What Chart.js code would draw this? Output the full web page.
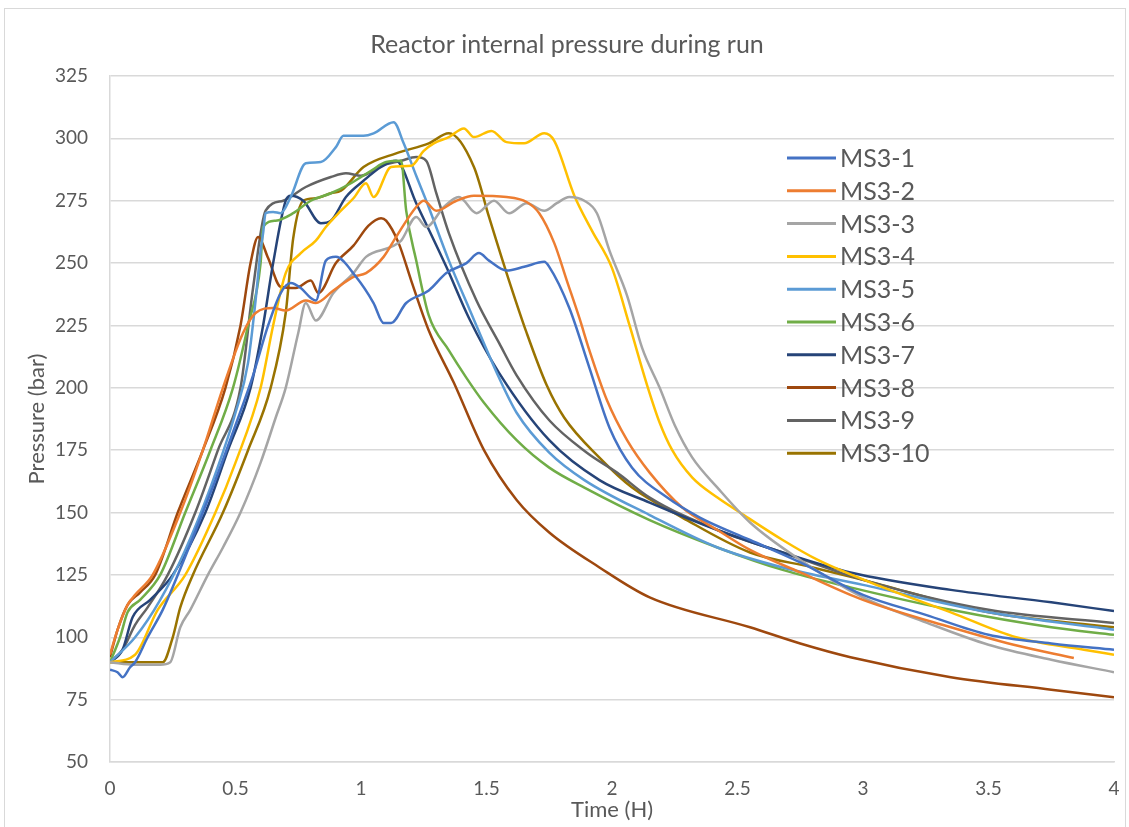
<!DOCTYPE html>
<html>
<head>
<meta charset="utf-8">
<title>Reactor internal pressure during run</title>
<script src="https://cdn.jsdelivr.net/npm/chart.js@4.4.1/dist/chart.umd.min.js"></script>
<style>
  html, body { margin: 0; padding: 0; background: #fff; }
  #wrap { width: 1129px; height: 827px; }
</style>
</head>
<body>
<div id="wrap"><canvas id="chart" width="1129" height="827"></canvas></div>
<script>
// series names and colours (Excel default palette)
const seriesNames = ['MS3-1', 'MS3-2', 'MS3-3', 'MS3-4', 'MS3-5', 'MS3-6', 'MS3-7', 'MS3-8', 'MS3-9', 'MS3-10'];
const seriesColors = ['#4472C4', '#ED7D31', '#A5A5A5', '#FFC000', '#5B9BD5', '#70AD47', '#264478', '#9E480E', '#636363', '#997300'];

// axis ticks
const timeTicks = [0, 0.5, 1, 1.5, 2, 2.5, 3, 3.5, 4];
const pressureTicks = [50, 75, 100, 125, 150, 175, 200, 225, 250, 275, 300, 325];

// time (H) / pressure (bar)
const ms31Time = [0, 0.03, 0.05, 0.08, 0.1, 0.15, 0.21, 0.27, 0.35, 0.42, 0.5, 0.57, 0.63, 0.68, 0.72, 0.76, 0.8, 0.82, 0.86, 0.9, 0.98, 1.05, 1.09, 1.12, 1.18, 1.27, 1.34, 1.42, 1.47, 1.51, 1.58, 1.65, 1.73, 1.75, 1.83, 1.91, 1.99, 2.08, 2.22, 2.35, 2.55, 2.75, 3.0, 3.25, 3.5, 3.75, 4.0];
const ms31Pressure = [87, 86, 84, 88, 90, 100, 111, 125, 145, 163, 185, 205, 225, 238, 242, 240, 236, 235, 251, 252.5, 244.5, 234, 226, 226, 234, 239, 246, 250, 254, 251, 247, 248.5, 250.5, 248.5, 232, 208, 184, 168, 156, 148, 139, 130, 117, 109, 101, 97.5, 95];

const ms32Time = [0, 0.03, 0.07, 0.1, 0.17, 0.28, 0.37, 0.45, 0.53, 0.58, 0.65, 0.7, 0.78, 0.82, 0.89, 0.97, 1.02, 1.09, 1.14, 1.22, 1.25, 1.3, 1.38, 1.45, 1.58, 1.66, 1.71, 1.77, 1.82, 1.87, 1.91, 1.98, 2.06, 2.15, 2.28, 2.42, 2.55, 2.75, 3.0, 3.35, 3.6, 3.84];
const ms32Pressure = [93, 103, 113, 117, 125, 150, 175, 200, 222, 230, 232, 231, 235, 234, 239, 244.5, 246, 252.5, 260.5, 272.5, 275, 271, 275, 277, 276.5, 274.5, 270, 258, 243, 228, 215, 195, 179, 166, 152, 143, 135, 126, 115, 104, 97, 91.7];

const ms33Time = [0, 0.1, 0.2, 0.24, 0.28, 0.32, 0.39, 0.45, 0.52, 0.6, 0.66, 0.7, 0.75, 0.78, 0.82, 0.89, 0.97, 1.02, 1.12, 1.16, 1.22, 1.26, 1.33, 1.39, 1.46, 1.53, 1.59, 1.66, 1.73, 1.78, 1.83, 1.89, 1.94, 1.99, 2.06, 2.12, 2.19, 2.25, 2.32, 2.42, 2.55, 2.75, 3.0, 3.25, 3.5, 3.75, 4.0];
const ms33Pressure = [90, 89, 89, 90, 104, 111, 125, 136, 150, 170, 188, 200, 222, 234, 227, 238, 246, 252.5, 256.5, 259, 268.5, 264.5, 272.5, 276.5, 270, 275, 270, 274, 271, 274, 276.5, 275, 270, 255, 237, 216, 200, 185, 172, 160, 146, 131, 116, 106, 97, 91, 86];

const ms34Time = [0, 0.1, 0.19, 0.3, 0.42, 0.5, 0.6, 0.65, 0.7, 0.76, 0.82, 0.86, 0.92, 0.97, 1.02, 1.05, 1.12, 1.2, 1.25, 1.29, 1.35, 1.41, 1.45, 1.52, 1.58, 1.65, 1.73, 1.77, 1.85, 1.92, 2.0, 2.07, 2.14, 2.19, 2.24, 2.32, 2.42, 2.51, 2.68, 2.82, 3.08, 3.35, 3.61, 3.88, 4.0];
const ms34Pressure = [90, 93, 111, 125, 150, 170, 200, 225, 246, 254, 259, 264.5, 271, 276, 282, 276.5, 288.5, 289, 295, 298, 300.5, 304, 300.5, 303, 298.5, 298, 302, 299, 277, 263, 248, 225, 201, 186, 175, 164, 156, 150, 139, 131, 120, 110, 100, 95, 93];

const ms35Time = [0, 0.1, 0.2, 0.3, 0.4, 0.5, 0.55, 0.58, 0.6, 0.61, 0.62, 0.65, 0.68, 0.72, 0.78, 0.84, 0.9, 0.93, 1.01, 1.05, 1.13, 1.17, 1.22, 1.26, 1.35, 1.43, 1.55, 1.62, 1.75, 1.89, 2.15, 2.42, 2.68, 3.0, 3.5, 4.0];
const ms35Pressure = [90, 100, 115, 135, 160, 190, 210, 235, 255, 262, 270, 270.5, 270, 276.5, 290, 290.5, 296.5, 301, 301, 302, 306.5, 298, 285, 275, 251, 232, 204, 190, 174, 163, 149, 136, 128, 121, 110, 103];

const ms36Time = [0, 0.04, 0.07, 0.12, 0.2, 0.3, 0.4, 0.49, 0.55, 0.6, 0.61, 0.66, 0.73, 0.8, 0.88, 0.96, 1.04, 1.1, 1.16, 1.18, 1.22, 1.27, 1.35, 1.42, 1.49, 1.62, 1.75, 1.89, 2.15, 2.42, 2.68, 2.95, 3.35, 3.75, 4.0];
const ms36Pressure = [90, 100, 110, 115, 125, 150, 175, 200, 225, 250, 264.5, 267, 270, 275, 278, 282, 287, 290.5, 291, 271, 251, 229, 215, 204, 194, 179, 168, 160, 147, 136, 127, 120, 111, 104, 101];

const ms37Time = [0, 0.05, 0.09, 0.16, 0.25, 0.38, 0.47, 0.56, 0.61, 0.65, 0.7, 0.72, 0.77, 0.84, 0.88, 0.94, 1.01, 1.08, 1.14, 1.22, 1.34, 1.43, 1.55, 1.75, 1.95, 2.15, 2.42, 2.68, 2.95, 3.35, 3.75, 4.0];
const ms37Pressure = [90, 95, 108, 115, 125, 150, 175, 200, 225, 250, 275, 277, 275, 266, 267, 276.5, 283, 288.5, 291, 274, 248.5, 228, 206, 179, 163, 154, 143, 134, 126, 119, 114, 110.5];

const ms38Time = [0, 0.03, 0.07, 0.12, 0.18, 0.27, 0.37, 0.46, 0.52, 0.56, 0.59, 0.63, 0.68, 0.74, 0.8, 0.83, 0.9, 0.97, 1.03, 1.08, 1.1, 1.15, 1.2, 1.27, 1.37, 1.49, 1.62, 1.75, 1.95, 2.15, 2.55, 2.75, 2.95, 3.35, 3.75, 4.0];
const ms38Pressure = [92, 103, 113, 118, 125, 150, 175, 200, 225, 250, 260.5, 252, 240.5, 240, 243, 238, 250, 257, 265, 268, 267, 258, 243, 223, 202, 175, 155, 142, 128, 116, 104, 97.5, 92, 84, 79, 76];

const ms39Time = [0, 0.05, 0.1, 0.15, 0.23, 0.34, 0.43, 0.52, 0.57, 0.62, 0.69, 0.78, 0.88, 0.94, 1.0, 1.08, 1.16, 1.22, 1.26, 1.3, 1.35, 1.46, 1.55, 1.62, 1.75, 1.9, 2.02, 2.15, 2.42, 2.68, 3.0, 3.5, 4.0];
const ms39Pressure = [90, 95, 105, 112, 125, 150, 175, 200, 240, 271, 275, 280.5, 284.5, 286, 285, 289, 291, 292.5, 291, 278, 262, 235, 218, 205, 187, 174, 166, 156, 143, 134, 123, 111, 105.7];

const ms310Time = [0, 0.1, 0.21, 0.25, 0.28, 0.33, 0.45, 0.55, 0.64, 0.7, 0.73, 0.77, 0.82, 0.88, 0.92, 1.01, 1.14, 1.27, 1.35, 1.45, 1.51, 1.58, 1.66, 1.74, 1.81, 1.95, 2.08, 2.28, 2.55, 2.8, 3.0, 3.5, 4.0];
const ms310Pressure = [90, 90, 90, 100, 112, 125, 150, 175, 200, 230, 260, 275, 276, 278, 279, 288.5, 294, 298, 302, 288.5, 268.5, 246, 222, 201, 188, 172, 160, 148, 134, 128, 123, 110, 104];

const allTimes = [ms31Time, ms32Time, ms33Time, ms34Time, ms35Time, ms36Time, ms37Time, ms38Time, ms39Time, ms310Time];
const allPressures = [ms31Pressure, ms32Pressure, ms33Pressure, ms34Pressure, ms35Pressure, ms36Pressure, ms37Pressure, ms38Pressure, ms39Pressure, ms310Pressure];

const FONT = 'Lato, "Open Sans", sans-serif';
const TEXT = '#595959';
const GRID = '#d9d9d9';

function points(t, p) {
  return t.map((x, i) => ({ x: x, y: p[i] }));
}

const datasets = seriesNames.map((name, i) => ({
  label: name,
  data: points(allTimes[i], allPressures[i]),
  borderColor: seriesColors[i],
  backgroundColor: seriesColors[i],
  fill: false
}));

// white page + thin frame like the Excel chart area
const frame = {
  id: 'frame',
  beforeDraw(chart) {
    const ctx = chart.ctx;
    ctx.save();
    ctx.fillStyle = '#fff';
    ctx.fillRect(0, 0, chart.width, chart.height);
    ctx.strokeStyle = GRID;
    ctx.lineWidth = 1;
    ctx.strokeRect(4.5, 8.5, chart.width - 8, chart.height);
    ctx.restore();
  }
};

// legend sits inside the plot, on the right
const insideLegend = {
  id: 'insideLegend',
  afterDraw(chart) {
    const ctx = chart.ctx;
    ctx.save();
    ctx.font = '25px ' + FONT;
    ctx.fillStyle = TEXT;
    ctx.textBaseline = 'middle';
    chart.data.datasets.forEach((ds, i) => {
      const y = 158 + i * 32.8;
      ctx.strokeStyle = ds.borderColor;
      ctx.lineWidth = 3;
      ctx.beginPath();
      ctx.moveTo(787, y);
      ctx.lineTo(836, y);
      ctx.stroke();
      ctx.fillText(ds.label, 840, y + 1);
    });
    ctx.restore();
  }
};

new Chart(document.getElementById('chart'), {
  type: 'line',
  data: { datasets: datasets },
  plugins: [frame, insideLegend],
  options: {
    responsive: false,
    animation: false,
    layout: { padding: { left: 20, right: 15, top: 0, bottom: 0 } },
    elements: {
      point: { radius: 0 },
      line: { borderWidth: 2.5, cubicInterpolationMode: 'monotone' }
    },
    plugins: {
      legend: { display: false },
      tooltip: { enabled: false },
      title: {
        display: true,
        text: 'Reactor internal pressure during run',
        color: TEXT,
        font: { family: FONT, size: 25, weight: 'normal' },
        padding: { top: 30, bottom: 16 }
      }
    },
    scales: {
      x: {
        type: 'linear',
        min: 0,
        max: 4,
        afterBuildTicks(scale) { scale.ticks = timeTicks.map(v => ({ value: v })); },
        afterFit(scale) { scale.height = 65; scale.paddingRight = 0; scale.paddingLeft = 0; },
        ticks: {
          color: TEXT, font: { family: FONT, size: 19 }, padding: 15, maxRotation: 0, autoSkip: false,
          callback: v => String(v)
        },
        grid: { display: false, drawTicks: false },
        border: { display: true, color: GRID, width: 1.5 },
        title: { display: true, text: 'Time (H)', color: TEXT, font: { family: FONT, size: 22 } }
      },
      y: {
        min: 50,
        max: 325,
        afterBuildTicks(scale) { scale.ticks = pressureTicks.map(v => ({ value: v })); },
        afterFit(scale) { scale.width = 90; },
        ticks: { color: TEXT, font: { family: FONT, size: 19 }, padding: 22 },
        grid: { color: GRID, lineWidth: 1.5, drawTicks: false },
        border: { display: true, color: GRID, width: 1.5 },
        title: { display: true, text: 'Pressure (bar)', color: TEXT, font: { family: FONT, size: 22 } }
      }
    }
  }
});
</script>
</body>
</html>
